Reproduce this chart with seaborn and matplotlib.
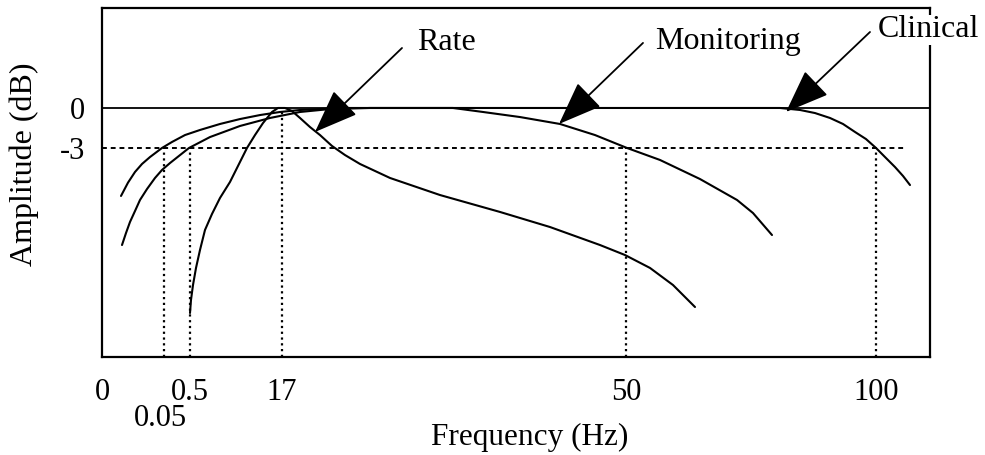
import matplotlib
matplotlib.use("Agg")
import matplotlib.pyplot as plt
import pandas as pd
import seaborn as sns

# Schematic frequency axis: x = position along the axis (0 = left edge)
clinical_x = [19, 26, 33, 40, 48, 60, 70, 83, 98, 118, 138, 158, 178, 198, 218, 238,
              400, 560, 658, 678, 698, 713, 728, 741, 753, 764, 774, 783, 793, 801, 808]
clinical_db = [-6.6, -5.6, -4.8, -4.2, -3.68, -3.0, -2.55, -2.03, -1.65, -1.2, -0.83, -0.53,
               -0.3, -0.15, -0.08, 0.0, 0.0, 0.0, 0.0, 0.0, -0.15, -0.38, -0.75, -1.2,
               -1.8, -2.33, -3.0, -3.68, -4.43, -5.1, -5.78]

monitoring_x = [20, 24, 28, 33, 38, 45, 53, 60, 68, 87, 108, 138, 168, 198, 228, 268,
                318, 351, 381, 418, 458, 493, 525, 558, 598, 635, 651, 670]
monitoring_db = [-10.28, -9.38, -8.55, -7.73, -6.9, -6.08, -5.25, -4.65, -4.13, -3.0, -2.18,
                 -1.35, -0.75, -0.3, -0.08, 0.0, 0.0, 0.0, -0.3, -0.68, -1.2, -2.03, -3.0,
                 -3.9, -5.33, -6.9, -7.88, -9.53]

rate_x = [88, 89, 91, 94, 98, 103, 110, 118, 128, 138, 145, 153, 161, 170, 176, 183, 190,
          198, 208, 218, 230, 243, 258, 288, 338, 398, 448, 498, 523, 548, 571, 593]
rate_db = [-15.38, -14.4, -13.28, -12.0, -10.65, -9.15, -7.95, -6.75, -5.55, -4.05, -3.0,
           -2.03, -1.13, -0.3, 0.0, 0.0, -0.23, -0.75, -1.43, -2.03, -2.85, -3.53, -4.2,
           -5.25, -6.53, -7.8, -8.93, -10.28, -11.03, -12.0, -13.28, -14.93]

tick_pos = [0, 88, 180, 524, 774]
tick_labels = ["0", "0.5", "17", "50", "100"]
low_tick_pos = 58
low_tick_label = "0.05"
cutoff_pos = [62, 88, 524, 774]   # -3 dB corner frequencies
peak_pos = 180                     # rate filter centre (17 Hz)

labels = ["Rate", "Monitoring", "Clinical"]
label_xy = [(315, 4.88), (553, 4.95), (776, 5.85)]
arrow_tail = [(300, 4.5), (541, 4.88), (768, 5.7)]
arrow_tip = [(213, -1.8), (457, -1.2), (684, -0.3)]

df = pd.concat([
    pd.DataFrame({"pos": clinical_x, "dB": clinical_db, "mode": "Clinical"}),
    pd.DataFrame({"pos": monitoring_x, "dB": monitoring_db, "mode": "Monitoring"}),
    pd.DataFrame({"pos": rate_x, "dB": rate_db, "mode": "Rate"}),
], ignore_index=True)

sns.set_theme(style="white")
plt.rcParams["font.family"] = ["Liberation Serif", "DejaVu Serif"]
plt.rcParams["text.color"] = "black"
plt.rcParams["axes.labelcolor"] = "black"
plt.rcParams["xtick.color"] = "black"
plt.rcParams["ytick.color"] = "black"

fig = plt.figure(figsize=(9.85, 4.55), dpi=100)
ax = fig.add_axes([102 / 985, 1 - 357 / 455, 828 / 985, 349 / 455])

sns.lineplot(data=df, x="pos", y="dB", hue="mode", units="mode", estimator=None,
             sort=False, palette={"Clinical": "black", "Monitoring": "black", "Rate": "black"},
             linewidth=1.5, legend=False, ax=ax)

ax.set_xlim(0, 828)
ax.set_ylim(-18.68, 7.5)

# reference lines
ax.axhline(0, color="black", linewidth=1.3, zorder=1)
ax.plot([0, 805], [-3, -3], color="black", linewidth=1.4, linestyle=(0, (2.5, 2)), zorder=1)
for p in cutoff_pos:
    ax.plot([p, p], [-18.68, -3], color="black", linewidth=1.6, linestyle=(0, (1, 1.6)), zorder=1)
ax.plot([peak_pos, peak_pos], [-18.68, 0], color="black", linewidth=1.6,
        linestyle=(0, (1, 1.6)), zorder=1)

# arrows and labels
for lab, lxy, tail, tip in zip(labels, label_xy, arrow_tail, arrow_tip):
    ax.annotate("", xy=tip, xytext=tail,
                arrowprops=dict(arrowstyle="-|>,head_length=1.25,head_width=0.48",
                                mutation_scale=22, color="black", linewidth=1.3,
                                shrinkA=0, shrinkB=0))
    ax.text(lxy[0], lxy[1], lab, fontsize=23, ha="left", va="center", zorder=5,
            clip_on=False,
            bbox=dict(facecolor="white", edgecolor="none", pad=0.5))

# ticks
ax.set_xticks(tick_pos)
ax.set_xticklabels(tick_labels)
ax.set_yticks([0, -3])
ax.set_yticklabels(["0", "-3"])
ax.tick_params(axis="both", length=0, labelsize=22, colors="black")
ax.tick_params(axis="x", pad=15)
ax.tick_params(axis="y", pad=12)
ax.text(low_tick_pos, -(418 - 357) / 349, low_tick_label, transform=ax.get_xaxis_transform(),
        ha="center", va="center", fontsize=22)

ax.set_xlabel("Frequency (Hz)", fontsize=22.5, va="center")
ax.xaxis.set_label_coords((530 - 102) / 828, -(437 - 357) / 349)
ax.set_ylabel("Amplitude (dB)", fontsize=23, va="center")
ax.yaxis.set_label_coords(-(102 - 24) / 828, (357 - 164) / 349)

for s in ax.spines.values():
    s.set_color("black")
    s.set_linewidth(1.6)

fig.savefig("out.png", dpi=100, facecolor="white")
